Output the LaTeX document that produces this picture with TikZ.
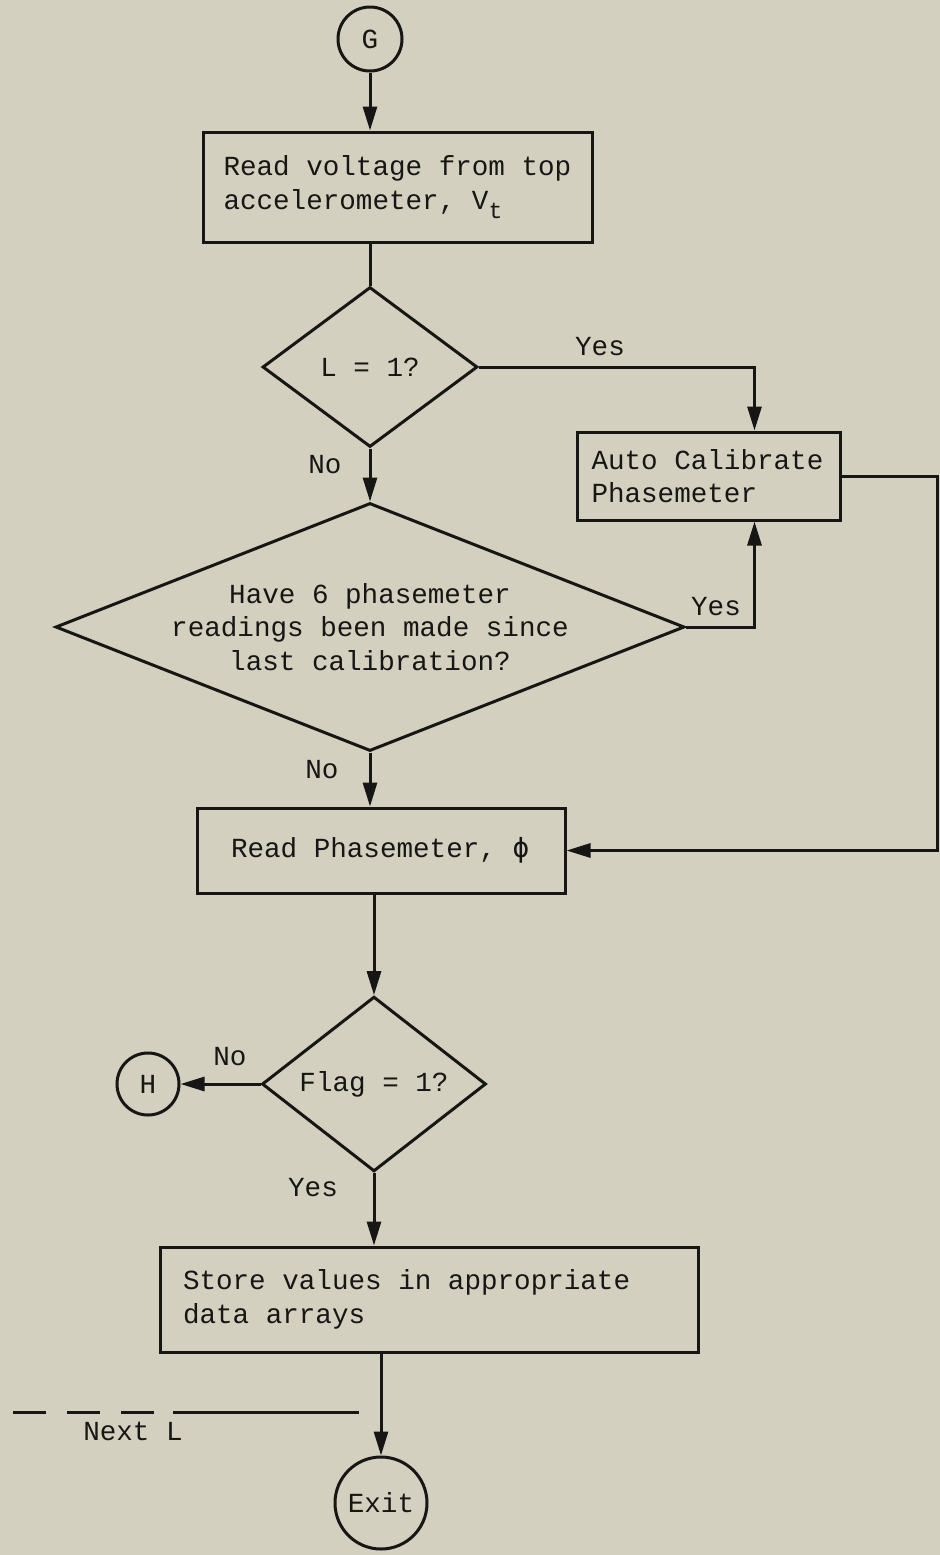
\documentclass[tikz,border=0pt]{standalone}
\usepackage{fontspec}
\newfontfamily\typew{Liberation Mono}
\newfontfamily\symf{DejaVu Sans Mono}
\definecolor{paper}{RGB}{212, 208, 191}
\definecolor{ink}{RGB}{22, 22, 20}
\usetikzlibrary{shapes.geometric, arrows.meta}

\begin{document}
\begin{tikzpicture}[
          x=0.5pt, y=-0.5pt,
          every node/.style={font=\typew\fontsize{13.8}{16.8}\selectfont, text=ink},
          line/.style={draw=ink, line width=1.5pt},
          box/.style={line, rectangle, align=left, inner ysep=0pt,
            execute at begin node={\spaceskip=0.6em\xspaceskip=0.6em\relax}},
          dec/.style={line, diamond, inner sep=0pt, align=center},
          conn/.style={line, circle, inner sep=0pt},
          arrow/.style={line, -{Triangle[length=12pt, width=7pt]}},
          lbl/.style={inner sep=0pt}
        ]
          \fill[paper] (0,0) rectangle (940,1555);
          \useasboundingbox (0,0) rectangle (940,1555);

          \node[conn, minimum size=32pt] (G) at (370,39) {G};
          \node[box, minimum width=194.5pt, minimum height=55pt, text width=174pt, inner xsep=10.25pt] (rdV) at (397.5,187)
            {Read voltage from top\\accelerometer, V\raisebox{-0.6ex}{\fontsize{11.5}{11.5}\selectfont t}};
          \node[dec, minimum width=107.5pt, minimum height=80pt] (d1) at (370,367) {L = 1?};
          \node[box, minimum width=131.5pt, minimum height=44pt, text width=117pt, inner xsep=7.25pt] (cal) at (708.5,476)
            {Auto Calibrate\\Phasemeter};
          \node[dec, minimum width=314.5pt, minimum height=124pt, aspect=2.5, inner sep=-10pt] (d2) at (370,627)
            {Have 6 phasemeter\\readings been made since\\last calibration?};
          \node[box, minimum width=184pt, minimum height=42.5pt, text width=150pt, inner xsep=17pt] (rdP) at (381,850.5)
            {Read Phasemeter, {\symf ϕ}};
          \node[dec, minimum width=112pt, minimum height=82pt] (d3) at (374,1084) {Flag = 1?};
          \node[conn, minimum size=31pt] (H) at (148,1084) {H};
          \node[box, minimum width=269pt, minimum height=52.5pt, text width=246pt, inner xsep=11.5pt] (sto) at (429,1299.5)
            {Store values in appropriate\\data arrays};
          \node[conn, minimum size=46pt] (ex) at (381,1503) {Exit};

          \node[lbl] (yes1) at (600,347) {Yes};
          \node[lbl] (no1) at (325,465) {No};
          \node[lbl] (yes2) at (716,607) {Yes};
          \node[lbl] (no2) at (322,770) {No};
          \node[lbl] (no3) at (230,1057) {No};
          \node[lbl] (yes3) at (313,1188) {Yes};
          \node[lbl] (nxL) at (133,1431) {Next L};

          \coordinate (rt) at (937,476);
          \coordinate (nxA) at (13,1412);
          \coordinate (nxB) at (173,1412);
          \coordinate (nxC) at (359,1412);

          \draw[arrow] (G) -- (G |- rdV.north);
          \draw[line] (rdV.south -| d1.north) -- (d1.north);
          \draw[arrow] (d1) -- (d2);
          \draw[arrow] (d1.east) -| ([xshift=23pt]cal.north);
          \draw[arrow] (d2.east) -| ([xshift=23pt]cal.south);
          \draw[arrow] (d2.south) -- (d2.south |- rdP.north);
          \draw[arrow] (cal.east) -- (rt) |- (rdP.east);
          \draw[arrow] (rdP.south -| d3.north) -- (d3.north);
          \draw[arrow] (d3.west) -- (H.east);
          \draw[arrow] (d3.south) -- (d3.south |- sto.north);
          \draw[arrow] (sto.south -| ex.north) -- (ex.north);
          \draw[line, dash pattern=on 16.5pt off 10.5pt] (nxA) -- (nxB);
          \draw[line] (nxB) -- (nxC);
        \end{tikzpicture}
\end{document}
